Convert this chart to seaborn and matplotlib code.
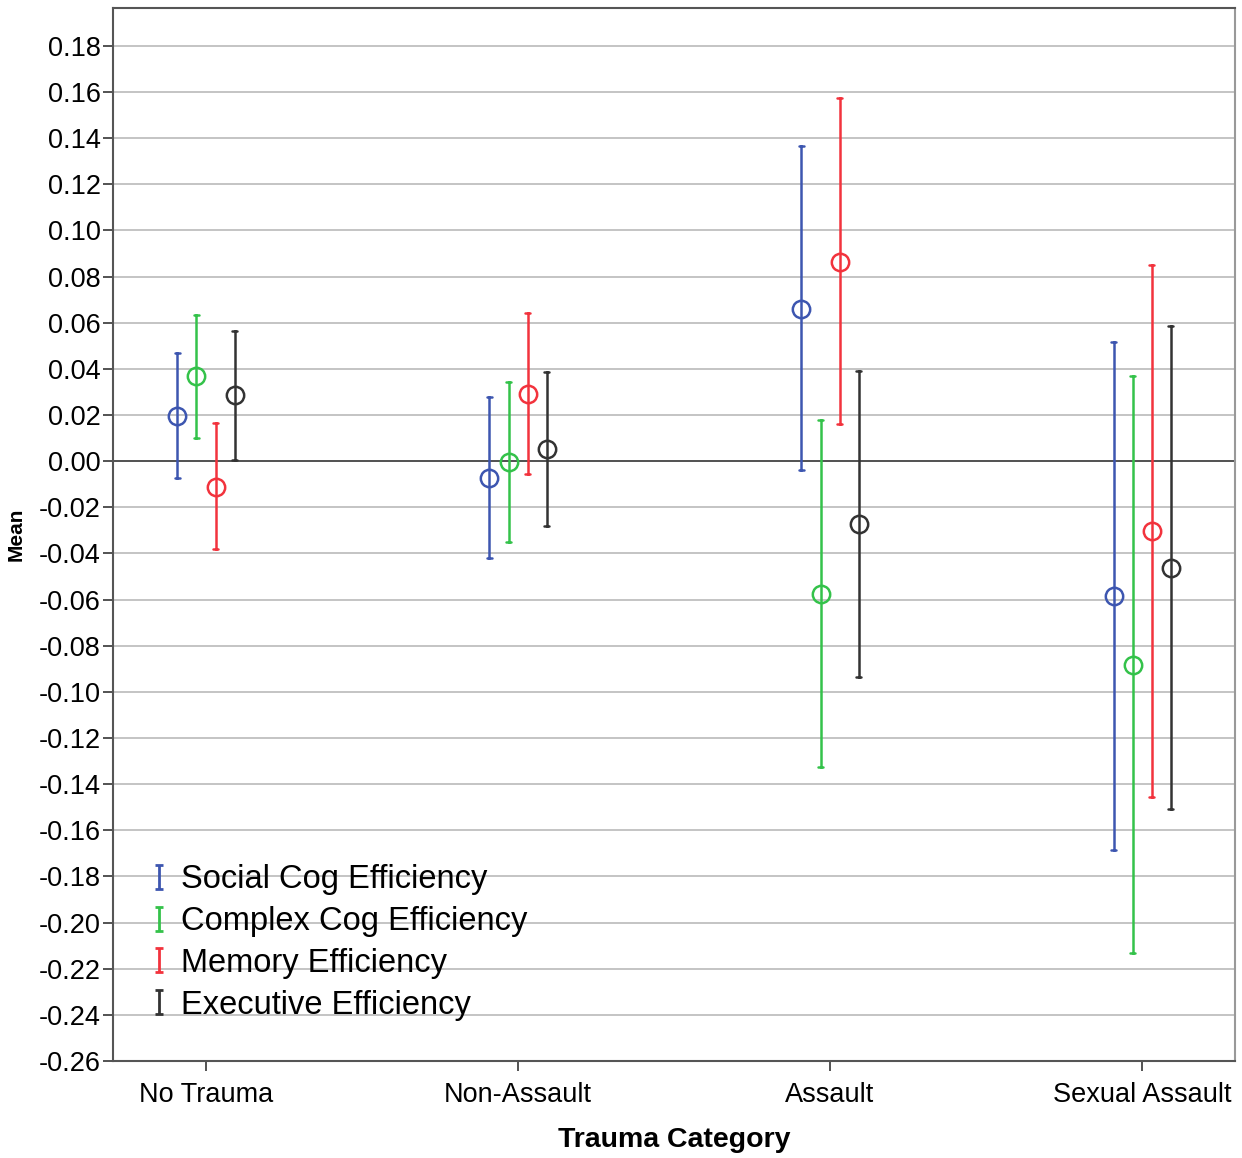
import numpy as np
import pandas as pd
import matplotlib
matplotlib.use("Agg")
import matplotlib.pyplot as plt
from matplotlib.lines import Line2D
from matplotlib.path import Path
from matplotlib.ticker import FuncFormatter
import seaborn as sns

categories = ["No Trauma", "Non-Assault", "Assault", "Sexual Assault"]
measures = ["Social Cog Efficiency", "Complex Cog Efficiency",
            "Memory Efficiency", "Executive Efficiency"]
colors = ["#3d56b0", "#34c24a", "#f2333d", "#333333"]

# mean and interval ends, one value per trauma category
social_mean = [0.0195, -0.0074, 0.0659, -0.0585]
social_lo = [-0.0074, -0.0420, -0.0039, -0.1686]
social_hi = [0.0468, 0.0277, 0.1365, 0.0516]

complex_mean = [0.0368, -0.0004, -0.0577, -0.0884]
complex_lo = [0.0100, -0.0350, -0.1326, -0.2133]
complex_hi = [0.0633, 0.0342, 0.0178, 0.0368]

memory_mean = [-0.0113, 0.0290, 0.0863, -0.0303]
memory_lo = [-0.0380, -0.0056, 0.0160, -0.1457]
memory_hi = [0.0165, 0.0640, 0.1573, 0.0850]

exec_mean = [0.0286, 0.0052, -0.0273, -0.0464]
exec_lo = [0.0004, -0.0280, -0.0936, -0.1508]
exec_hi = [0.0563, 0.0386, 0.0390, 0.0585]

series = {
    measures[0]: (social_lo, social_mean, social_hi),
    measures[1]: (complex_lo, complex_mean, complex_hi),
    measures[2]: (memory_lo, memory_mean, memory_hi),
    measures[3]: (exec_lo, exec_mean, exec_hi),
}

rows = []
for m, (lo, mean, hi) in series.items():
    for i, c in enumerate(categories):
        for v in (lo[i], mean[i], hi[i]):
            rows.append({"category": c, "measure": m, "value": v})
df = pd.DataFrame(rows)

sns.set_style("white")
plt.rcParams["font.family"] = ["Liberation Sans", "DejaVu Sans"]
plt.rcParams["axes.unicode_minus"] = False
plt.rcParams["text.color"] = "black"
plt.rcParams["axes.labelcolor"] = "black"
plt.rcParams["xtick.color"] = "black"
plt.rcParams["ytick.color"] = "black"

fig = plt.figure(figsize=(12.42, 11.58), dpi=100)
ax = fig.add_axes([0.091, 0.0838, 0.9034, 0.9093])

yticks = np.round(np.arange(-0.26, 0.181, 0.02), 2)
for t in yticks:
    if abs(t) > 1e-9:
        ax.axhline(t, color="#c4c4c4", lw=1.4, zorder=0)
ax.axhline(0, color="#333333", lw=1.2, zorder=0.5)

sns.pointplot(data=df, x="category", y="value", hue="measure",
              order=categories, hue_order=measures, palette=colors,
              estimator="median", errorbar=lambda v: (v.min(), v.max()),
              dodge=0.183, linestyle="none", markers="o",
              markersize=12.5, markerfacecolor="none", markeredgewidth=1.8,
              linewidth=1.8, err_kws={"linewidth": 1.8}, capsize=0.014,
              legend=False, ax=ax)

ax.set_xlim(-0.298, 3.298)
ax.set_ylim(-0.26, 0.1964)
ax.set_yticks(yticks)
ax.yaxis.set_major_formatter(FuncFormatter(
    lambda v, p: "0.00" if abs(v) < 1e-9 else "%.2f" % v))
ax.tick_params(axis="both", direction="out", length=7, width=1.3,
               color="#444444", labelsize=19.5, left=True, bottom=True)
ax.tick_params(axis="y", pad=2)
ax.tick_params(axis="x", pad=8)

for s in ax.spines.values():
    s.set_color("#555555")
    s.set_linewidth(1.5)
ax.spines["right"].set_color("#999999")

ax.set_xlabel("Trauma Category", fontsize=20.5, fontweight="bold", labelpad=14)
ax.set_ylabel("Mean", fontsize=15, fontweight="bold", labelpad=9)

i_marker = Path([(-0.35, 1), (0.35, 1), (0, 1), (0, -1), (-0.35, -1), (0.35, -1)],
                [Path.MOVETO, Path.LINETO, Path.MOVETO, Path.LINETO,
                 Path.MOVETO, Path.LINETO])
handles = [Line2D([], [], color=c, marker=i_marker, linestyle="none",
                  markersize=17, markeredgewidth=2, markerfacecolor="none")
           for c in colors]
ax.legend(handles, measures, loc="lower left", bbox_to_anchor=(0.021, 0.026),
          frameon=False, fontsize=23.5, handlelength=0.6, handletextpad=0.35,
          labelspacing=0.33, borderaxespad=0)

fig.savefig("out.png", dpi=100)
